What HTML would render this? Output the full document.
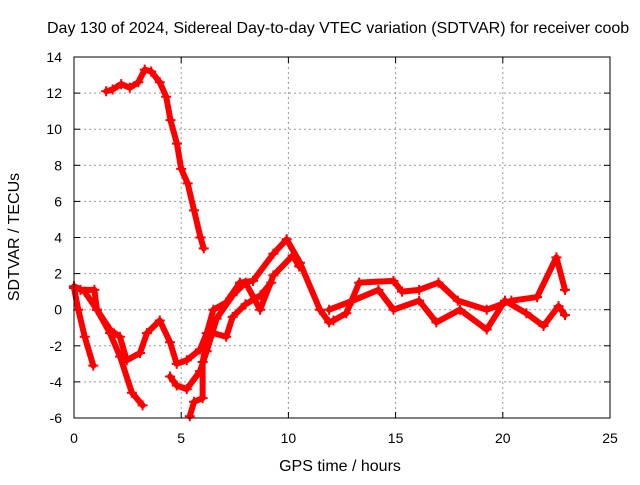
<!DOCTYPE html>
<html><head><meta charset="utf-8"><style>
body{margin:0;background:#fff}
svg text{font-family:"Liberation Sans",sans-serif;font-size:14px;fill:#000}
svg text.big{font-size:16px}
</style></head><body>
<svg id="chart" width="640" height="480" viewBox="0 0 640 480" xmlns="http://www.w3.org/2000/svg">
<rect width="640" height="480" fill="#fff"/>
<text class="big" x="47" y="33">Day 130 of 2024, Sidereal Day-to-day VTEC variation (SDTVAR) for receiver coob</text>
<text class="big" x="340" y="471" text-anchor="middle">GPS time / hours</text>
<text class="big" transform="translate(19,237) rotate(-90)" text-anchor="middle">SDTVAR / TECUs</text>
<g id="grid"></g><g id="ticks"></g><g id="series"></g>
<rect x="74" y="57" width="536" height="361" fill="none" stroke="#000" stroke-width="1"/>
</svg>
<script>
const xTicks=[0,5,10,15,20,25];
const yTicks=[-6,-4,-2,0,2,4,6,8,10,12,14];
const trackTop=[[1.5,12.1],[1.8,12.2],[2.2,12.5],[2.6,12.3],[3.0,12.6],[3.3,13.3],[3.6,13.2],[4.0,12.6],[4.3,11.8],[4.5,10.5],[4.8,9.2],[5.0,7.8],[5.3,7.0],[5.6,5.5],[5.9,4.0],[6.05,3.4]];
const trackA=[[0,1.2],[0.2,0],[0.5,-1.5],[0.9,-3.1]];
const trackB=[[0,1.3],[0.5,1.0],[1.07,0],[1.68,-1.3],[2.15,-2.6],[2.7,-4.6],[3.2,-5.3]];
const trackC=[[0.3,1.1],[0.95,1.1],[1.07,0],[1.68,-1.1],[2.14,-1.5],[2.46,-2.8],[3.08,-2.4],[3.4,-1.3],[4.0,-0.6],[4.48,-1.8],[4.79,-3.0],[5.26,-2.8],[5.88,-2.2],[6.19,-1.3],[6.5,0],[7.1,0.4],[7.74,1.5],[8.35,1.6],[9.3,3.1],[9.92,3.9],[10.54,2.6],[11.47,0],[11.9,-0.7],[12.1,-0.6],[12.7,-0.2],[13.3,1.5],[14.9,1.6],[15.3,1.0],[16.1,1.1],[17.0,1.5],[17.9,0.5],[19.25,0],[20.4,0.5],[21.6,0.7],[22.5,2.9],[22.9,1.1]];
const trackC2=[[11.9,0],[13.0,0.5],[14.2,1.1],[14.9,0],[16.1,0.5],[16.9,-0.7],[18.0,0],[19.25,-1.1],[20.1,0.5],[21.1,-0.2],[21.9,-0.9],[22.6,0.2],[22.9,-0.3]];
const trackD=[[4.48,-3.7],[4.79,-4.2],[5.26,-4.4],[5.88,-3.4],[6.19,-2.3],[6.65,-0.5],[7.4,0.8],[8.0,1.5],[8.68,0],[9.3,1.9],[10.2,3.0],[10.5,2.4]];
const trackE=[[5.4,-5.9],[5.6,-5.1],[6.0,-4.9],[6.0,-2.9],[6.2,-1.7]];
const trackF=[[6.5,-1.3],[7.1,-1.5],[7.4,-0.4],[8.0,0.3],[8.7,0.8],[9.2,1.5]];
const tracks=[trackTop,trackA,trackB,trackC,trackC2,trackD,trackE,trackF];
const X=h=>74+h*536/25, Y=v=>418-(v+6)*361/20;
const NS="http://www.w3.org/2000/svg";
const mk=(t,a,p)=>{const e=document.createElementNS(NS,t);for(const k in a)e.setAttribute(k,a[k]);p.appendChild(e);return e;};
const grid=document.getElementById('grid'),ticks=document.getElementById('ticks'),ser=document.getElementById('series');
xTicks.forEach(t=>{
  if(t>0&&t<25){const g=mk('line',{x1:X(t),x2:X(t),y1:57,y2:418,stroke:'#999','stroke-dasharray':'2,3'},grid);
  
  }
  mk('line',{x1:X(t),x2:X(t),y1:418,y2:412,stroke:'#000'},ticks);
  mk('line',{x1:X(t),x2:X(t),y1:57,y2:63,stroke:'#000'},ticks);
  const l=mk('text',{x:X(t),y:443,'text-anchor':'middle'},ticks);l.textContent=t;
  
  
});
yTicks.forEach(t=>{
  if(t>-6&&t<14){const g=mk('line',{x1:74,x2:610,y1:Y(t),y2:Y(t),stroke:'#999','stroke-dasharray':'2,3'},grid);
  
  }
  mk('line',{x1:74,x2:80,y1:Y(t),y2:Y(t),stroke:'#000'},ticks);
  mk('line',{x1:610,x2:604,y1:Y(t),y2:Y(t),stroke:'#000'},ticks);
  const l=mk('text',{x:62,y:Y(t)+5,'text-anchor':'end'},ticks);l.textContent=t;
  
  
});
tracks.forEach(tr=>{
  const pl=mk('polyline',{points:tr.map(p=>X(p[0])+','+Y(p[1])).join(' '),fill:'none',stroke:'#f00','stroke-width':6,'stroke-linejoin':'round','stroke-linecap':'round'},ser);
  
  
  tr.forEach(p=>{
    const m=mk('path',{d:`M${X(p[0])-5},${Y(p[1])}h10M${X(p[0])},${Y(p[1])-5}v10`,stroke:'#f00','stroke-width':2},ser);
    
    
  });
});
</script>
</body></html>
